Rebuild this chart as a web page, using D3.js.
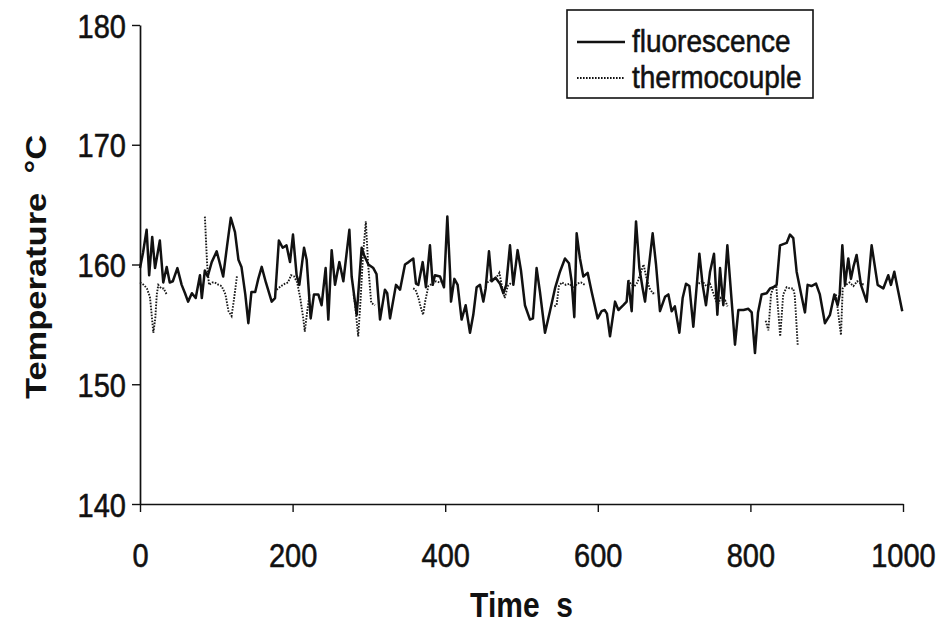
<!DOCTYPE html>
<html>
<head>
<meta charset="utf-8">
<script src="https://cdn.jsdelivr.net/npm/d3@7/dist/d3.min.js"></script>
<style>
  html, body { margin: 0; padding: 0; background: #fff; }
  svg { display: block; }
  text { font-family: "Liberation Sans", Arial, Helvetica, sans-serif; fill: #111; }
</style>
</head>
<body>
<svg id="chart" width="938" height="632"></svg>
<script>
// ---- data ----
const xTicks = [0, 200, 400, 600, 800, 1000];
const yTicks = [140, 150, 160, 170, 180];
const xLabel = "Time  s";
const yLabel = "Temperature  °C";
const seriesNames = ["fluorescence", "thermocouple"];

// fluorescence: [time s, temperature °C]
const fluorescence = [
  [0,159.7],[4,161],[8.7,162.9],[12,159.1],[16,162.3],[19.7,159.7],[26,162],[30.5,158.5],[35,159.8],[39,158.5],
  [43,158.6],[49,159.7],[54.6,158.3],[59,157.6],[63,156.9],[68,157.6],[73,157.2],[78.6,159.1],[81,157.2],[85,159.5],
  [88.7,159.0],[94,160.2],[100.5,161.1],[105,160.0],[109,159.0],[114,161.5],[119,163.9],[124.5,162.7],[129,160.4],[133,159.8],
  [138,157.5],[142,155.1],[146,157.7],[151,157.7],[155,158.8],[159.5,159.8],[165,158.5],[172.6,156.9],[177,157.2],[182,162.0],
  [187,161.4],[192,161.6],[196.6,160.2],[200.5,162.5],[205.3,159.1],[208.8,158.3],[215,161.4],[218.4,160.4],[223.7,155.5],[228,157.5],
  [233.7,157.5],[238,156.6],[243.3,159.7],[246.8,155.4],[251.2,161.2],[255.6,158.3],[261.3,160.2],[266.5,158.6],[274.4,162.9],[277.4,159.0],
  [284,155.8],[290.5,161.4],[293.6,160.8],[299.3,160.0],[305.8,159.7],[310,159.2],[314.6,155.4],[321,157.9],[324,157.6],[327.7,155.5],
  [335.5,158.3],[340.8,157.9],[347.3,160.0],[352,160.2],[358.2,160.5],[361.7,158.4],[364.8,158.3],[370.5,160.2],[374.8,158.1],[380,161.6],
  [383.6,158.3],[386.6,159.1],[393.2,159.0],[398.4,158.1],[402.8,164.0],[406.3,159.4],[407.6,156.9],[412,158.8],[416.3,158.3],[421.5,155.4],
  [426.8,156.6],[432.5,154.3],[436.8,155.8],[441.2,158.1],[445.6,158.3],[450,156.9],[453,158.0],[457.4,161.1],[460.9,158.6],[466,158.9],
  [471.8,158.4],[476.2,157.6],[480,158.3],[484.9,161.6],[489.3,158.3],[494.9,161.2],[499.3,159.5],[504.5,156.6],[511.1,155.4],[515,155.5],
  [519.8,159.7],[524.2,157.7],[530.8,154.3],[537.3,156.1],[543.9,158.0],[550.4,159.4],[557,160.5],[562.2,160.1],[565.7,158.6],[569.2,155.6],
  [572.3,162.6],[576.6,160.5],[581,159.0],[586.7,159.3],[592,157.7],[599.8,155.5],[605,156.1],[609,156.2],[612,155.9],[616,154.0],
  [622.6,156.9],[627,156.2],[633.5,156.6],[637.8,156.9],[640,158.6],[644.4,156.1],[650.1,163.6],[654.5,159.7],[658.8,158.0],[661.9,156.9],
  [666.2,159.4],[671.9,162.6],[676.3,160.0],[681.5,156.1],[688.1,157.3],[692.5,157.5],[696.8,156.1],[701,156.5],[706.9,154.3],[711.2,157.2],
  [715.6,158.4],[720,158.2],[725.2,154.8],[733.1,160.9],[737.4,158.3],[741.8,156.6],[747.1,159.4],[752.3,160.9],[756.7,155.8],[760.2,159.7],
  [764.5,156.6],[769.8,161.6],[775.5,156.9],[779.8,153.3],[784.2,156.2],[791,156.2],[797.3,156.3],[801.7,156.0],[806,152.6],[810,156.0],
  [814.7,157.5],[821.3,157.6],[825.7,158.0],[830,158.1],[834.4,158.3],[838.8,161.6],[847.5,161.8],[851.9,162.5],[856.2,162.2],[860.6,159.4],
  [867.2,157.3],[871.5,156.0],[875,158.3],[880,158.2],[886,158.4],[891,157.5],[897.7,155.1],[904.3,155.8],[910,157.5],[914.3,156.6],
  [917,157.5],[920.5,161.6],[924,158.3],[928.3,160.5],[931.8,158.8],[935,159.8],[939.2,160.8],[944.9,158.3],[952.3,156.9],[958.9,161.6],
  [966.8,158.3],[974.2,158.0],[980.7,159.1],[984.2,158.3],[988.6,159.4],[993.9,157.7],[999,156.1]
];

// thermocouple: [time s, temperature °C]; null marks a break in the record
const thermocouple = [
  [0,158.5],[5,158.3],[9,158.0],[13,157.3],[15,156.0],[17.5,154.3],[20,155.5],[22,157.5],[24,158.3],[28,158.0],[31,158.0],[35,157.5],
  [60,null],
  [85,164.0],[88,160.0],[90.5,158.3],[95,158.5],[98,158.5],[103,158.3],[107,158.2],[112,157.5],[116,156.1],[120,155.7],[123,157.0],[127,159.0],
  [150,null],
  [179,157.9],[185,158.2],[190,158.4],[194,158.5],[198,159.1],[202,159.0],[206,158.5],[210,157.2],[214,155.5],[216,154.4],[219,156.0],[222,157.5],
  [250,null],
  [280,157.5],[282,156.6],[286,154.0],[289,157.0],[292,160.5],[296,163.6],[299,160.0],[303,156.8],[308,156.6],
  [330,null],
  [358,158.0],[361,157.9],[365,157.2],[368,156.4],[371,155.8],[374,157.0],[378,158.2],[383,158.4],[388,158.6],[393,158.5],[398,158.6],
  [420,null],
  [455,158.5],[460,158.7],[466,158.8],[471,159.3],[475,158.0],[478,157.2],[482,158.2],[487,158.5],
  [510,null],
  [543,156.5],[546,156.6],[549,158.2],[553,158.5],[558,158.3],[563,158.4],[568,158.0],[573,158.4],[578,158.5],[583,158.3],
  [610,null],
  [640,158.7],[644,158.3],[648,158.2],[652,158.5],[656,159.3],[660,160.0],[664,158.8],[668,158.0],[672,157.6],[676,157.6],
  [700,null],
  [732,158.4],[737,158.6],[742,158.2],[747,158.4],[752,157.5],[757,156.6],[761,157.2],[764,157.0],[767,157.0],[770,156.5],
  [795,null],
  [820,155.3],[823.5,154.5],[827,157.5],[830,158.1],[834,158.2],[836,156.5],[839,154.0],[843,157.5],[847.5,158.1],[852,158.0],[856,158.0],[858,157.5],[860,155.5],[862,153.3],
  [890,null],
  [912,157.5],[915,156.0],[918.7,154.1],[921,158.0],[925,158.3],[930,158.5],[935,158.2],[940,158.6],[945,158.4],[950,158.3]
];

// ---- drawing ----
const svg = d3.select("#chart");
const x = d3.scaleLinear().domain([0, 1000]).range([140, 903]);
const y = d3.scaleLinear().domain([140, 180]).range([504, 25]);
const SY = 1.15; // vertical stretch of the original typesetting
const INK = "#111";

// axes
const gx = svg.append("g").attr("transform", `translate(0,${y(140)})`)
  .call(d3.axisBottom(x).tickValues(xTicks).tickSize(8).tickSizeOuter(0).tickFormat(d3.format("d")));
const gy = svg.append("g").attr("transform", `translate(${x(0)},0)`)
  .call(d3.axisLeft(y).tickValues(yTicks).tickSize(8).tickSizeOuter(0).tickFormat(d3.format("d")));

[gx, gy].forEach(g => {
  g.select(".domain").attr("stroke", INK).attr("stroke-width", 1.7);
  g.selectAll(".tick line").attr("stroke", INK).attr("stroke-width", 1.4);
  g.selectAll(".tick text").attr("font-size", 29).attr("fill", INK)
    .attr("stroke", INK).attr("stroke-width", 0.5)
    .attr("font-family", '"Liberation Sans", Arial, sans-serif');
});
gx.selectAll(".tick text").attr("y", 0).attr("dy", 0)
  .attr("transform", `translate(0,63) scale(1,${SY})`);
gy.selectAll(".tick text").attr("x", 0).attr("dy", 0).attr("text-anchor", "end")
  .attr("transform", `translate(-14,12) scale(1,${SY})`);

// series
const line = d3.line()
  .defined(d => d[1] !== null)
  .x(d => x(d[0])).y(d => y(d[1]));

svg.append("path").datum(thermocouple)
  .attr("fill", "none").attr("stroke", "#1a1a1a").attr("stroke-width", 1.9)
  .attr("stroke-dasharray", "1.6,1.4").attr("d", line);

svg.append("path").datum(fluorescence)
  .attr("fill", "none").attr("stroke", INK).attr("stroke-width", 2.5)
  .attr("stroke-linejoin", "round").attr("d", line);

// axis titles
svg.append("text")
  .attr("transform", `translate(${(x(0) + x(1000)) / 2},617) scale(1,${SY})`)
  .attr("text-anchor", "middle").attr("font-size", 30).attr("font-weight", "bold")
  .style("white-space", "pre").text(xLabel);

svg.append("text")
  .attr("transform", `translate(46,267) rotate(-90) scale(${SY},1)`)
  .attr("text-anchor", "middle").attr("font-size", 30).attr("font-weight", "bold")
  .style("white-space", "pre").text(yLabel);

// legend
const lg = svg.append("g");
lg.append("rect").attr("x", 567).attr("y", 10).attr("width", 246).attr("height", 88)
  .attr("fill", "#fff").attr("stroke", INK).attr("stroke-width", 1.6);
const rows = [
  { name: seriesNames[0], dash: null, w: 2.4, cy: 42 },
  { name: seriesNames[1], dash: "1.6,1.4", w: 1.9, cy: 78 }
];
rows.forEach(r => {
  lg.append("line").attr("x1", 577).attr("x2", 625).attr("y1", r.cy).attr("y2", r.cy)
    .attr("stroke", INK).attr("stroke-width", r.w).attr("stroke-dasharray", r.dash);
  lg.append("text").attr("transform", `translate(632,${r.cy + 10}) scale(1,${SY})`)
    .attr("font-size", 28).attr("stroke", INK).attr("stroke-width", 0.5).text(r.name);
});
</script>
</body>
</html>
